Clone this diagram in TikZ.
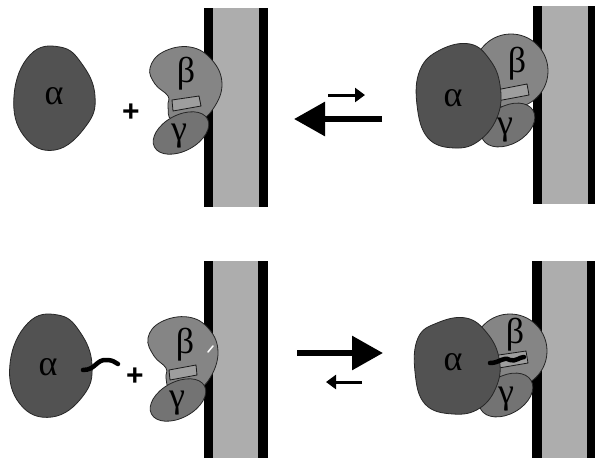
\documentclass[tikz,border=0pt]{standalone}
\usepackage{fontspec}
\setmainfont{Liberation Sans}
\newfontfamily\greekfont{Liberation Serif}
\usetikzlibrary{arrows.meta}
\begin{document}
\begin{tikzpicture}[x=1pt,y=-1pt,
  subA/.style={fill=black!68,draw=black!85,line width=0.8pt},
  subB/.style={fill=black!48,draw=black!85,line width=0.8pt},
  subG/.style={fill=black!55,draw=black!85,line width=0.8pt},
  slot/.style={fill=black!38,draw=black!90,line width=0.8pt},
  lipid/.style={fill=black!32,draw=none},
  leaflet/.style={fill=black,draw=none},
  greek/.style={font=\greekfont\fontsize{36}{36}\selectfont,inner sep=0pt},
  plus/.style={font=\fontsize{30}{30}\selectfont\bfseries,inner sep=0pt},
  tail/.style={line width=4.5pt,line cap=round,black},
  bigarrow/.style={line width=6pt,-{Triangle[length=31pt,width=33pt]}},
  smallarrow/.style={line width=3pt,-{Triangle[length=10pt,width=14pt]}}]
\useasboundingbox (0,0) rectangle (595,459);
\fill[white] (0,0) rectangle (595,459);

% ---------- membranes ----------
\fill[lipid] (213,8) rectangle (259,207);
\fill[leaflet] (204,8) rectangle (213,207);
\fill[leaflet] (259,8) rectangle (268,207);
\fill[lipid] (542,6) rectangle (588,204);
\fill[leaflet] (533,6) rectangle (542,204);
\fill[leaflet] (588,6) rectangle (595,204);
\fill[lipid] (213,261) rectangle (258,458);
\fill[leaflet] (204,261) rectangle (213,458);
\fill[leaflet] (258,261) rectangle (268,458);
\fill[lipid] (542,261) rectangle (587,458);
\fill[leaflet] (532,261) rectangle (542,458);
\fill[leaflet] (587,261) rectangle (595,458);

% ---------- top left: free alpha + beta/gamma ----------
\draw[subA] plot[smooth cycle,tension=0.75] coordinates
  {(30,55) (60,47) (82,64) (95,96) (86,126) (55,150) (24,136) (14,96)};
\node[greek] (a1) at (54,96) {α};
\node[plus] (p1) at (131,113) {+};
\draw[subB] plot[smooth cycle,tension=0.7] coordinates
  {(190,47) (212,60) (222,84) (213,109) (196,122) (172,120) (168,106) (168,96) (155,84) (150,68) (163,52)};
\draw[slot] (172,100) -- (199,96) -- (201,106) -- (173,111) -- cycle;
\draw[subG,rotate around={28:(181,133)}] (181,133) ellipse (30pt and 18pt);
\node[greek] (b1) at (186,74) {β};
\node[greek] (g1) at (179,136) {γ};

% ---------- top right: heterotrimer ----------
\draw[subB] (511,71) circle (37pt);
\draw[slot] (496,90) -- (527,84) -- (529,95) -- (497,101) -- cycle;
\draw[subG,rotate around={30:(508,125)}] (508,125) ellipse (29pt and 19pt);
\draw[subA] plot[smooth cycle,tension=0.7] coordinates
  {(440,50) (470,44) (490,60) (500,85) (498,115) (480,140) (455,148) (428,138) (417,105) (420,70)};
\node[greek] (a2) at (453,98) {α};
\node[greek] (b2) at (517,64) {β};
\node[greek] (g2) at (505,130) {γ};

% ---------- top equilibrium arrows ----------
\coordinate (t1s) at (328,95);
\coordinate (t1e) at (365,95);
\coordinate (t2s) at (382,119);
\coordinate (t2e) at (294,119);
\draw[smallarrow] (t1s) -- (t1e);
\draw[bigarrow] (t2s) -- (t2e);

% ---------- bottom left: acylated alpha + beta/gamma ----------
\draw[subA] plot[smooth cycle,tension=0.75] coordinates
  {(28,323) (58,315) (80,332) (92,365) (83,396) (52,417) (20,404) (10,364)};
\coordinate (tl1) at (83,370);
\coordinate (tl2) at (118,364);
\draw[tail] (tl1) .. controls (96,370) and (96,359) .. (107,360) .. controls (112,360) and (115,362) .. (tl2);
\node[greek] (a3) at (48,367) {α};
\node[plus] (p3) at (135,377) {+};
\draw[subB] plot[smooth cycle,tension=0.7] coordinates
  {(188,317) (209,329) (218,352) (210,378) (194,391) (171,389) (166,378) (166,368) (154,356) (148,338) (161,322)};
\draw[white,line width=1.5pt,line cap=round] (208,352) -- (213,346);
\draw[slot] (169,370) -- (196,365) -- (197,375) -- (170,380) -- cycle;
\draw[subG,rotate around={28:(178,400)}] (178,400) ellipse (30pt and 18pt);
\node[greek] (b3) at (185,345) {β};
\node[greek] (g3) at (177,403) {γ};

% ---------- bottom right: heterotrimer with inserted acyl chain ----------
\draw[subB] (510,351) circle (37pt);
\draw[slot] (492,356) -- (526,351) -- (528,363) -- (493,369) -- cycle;
\draw[subG,rotate around={30:(506,395)}] (506,395) ellipse (29pt and 19pt);
\draw[subA] plot[smooth cycle,tension=0.7] coordinates
  {(437,323) (466,318) (487,333) (499,358) (497,385) (480,408) (453,414) (425,404) (415,372) (418,338)};
\coordinate (tl3) at (490,363);
\coordinate (tl4) at (524,357);
\draw[tail] (tl3) .. controls (500,363) and (503,356) .. (510,360) .. controls (515,362) and (520,357) .. (tl4);
\node[greek] (a4) at (453,362) {α};
\node[greek] (b4) at (515,335) {β};
\node[greek] (g4) at (506,399) {γ};

% ---------- bottom equilibrium arrows ----------
\coordinate (u1s) at (297,353);
\coordinate (u1e) at (383,353);
\coordinate (u2s) at (362,382);
\coordinate (u2e) at (326,382);
\draw[bigarrow] (u1s) -- (u1e);
\draw[smallarrow] (u2s) -- (u2e);
\end{tikzpicture}
\end{document}
